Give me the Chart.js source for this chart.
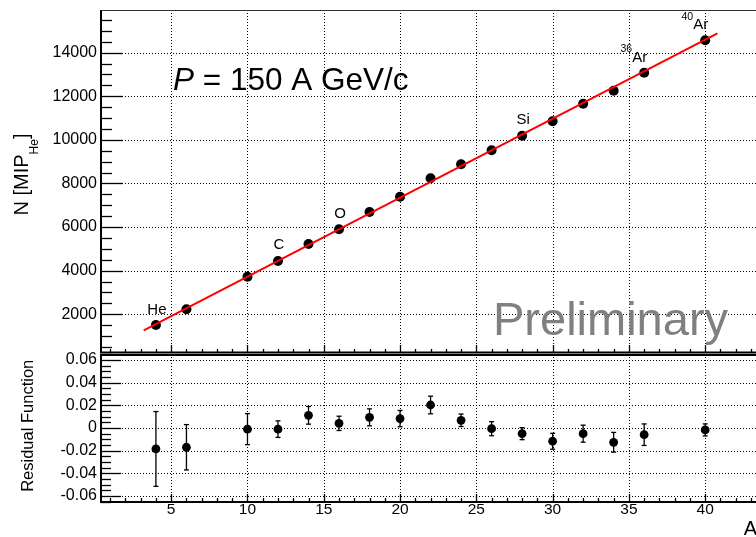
<!DOCTYPE html>
<html><head><meta charset="utf-8">
<script src="https://cdn.jsdelivr.net/npm/chart.js@4/dist/chart.umd.min.js"></script>
<style>
html,body{margin:0;padding:0;background:#fff;overflow:hidden;width:756px;height:537px;}
#top{position:absolute;left:0;top:0;width:756px;height:354px;}
#bot{position:absolute;left:0;top:340px;width:756px;height:197px;}
canvas{display:block;}
</style></head><body>
<div id="top"><canvas id="c1" width="756" height="354"></canvas></div>
<div id="bot"><canvas id="c2" width="756" height="197"></canvas></div>
<script>
// ---- data ----
const massNumbers = [4, 6, 10, 12, 14, 16, 18, 20, 22, 24, 26, 28, 30, 32, 34, 36, 40];
const signalMIP = [1509, 2229, 3725, 4445, 5225, 5899, 6693, 7394, 8238, 8881, 9523, 10193, 10853, 11661, 12257, 13083, 14569];
const residuals = [-0.0185, -0.017, -0.001, -0.001, 0.0112, 0.0041, 0.0094, 0.0083, 0.0203, 0.0068, -0.0006, -0.005, -0.0117, -0.005, -0.0126, -0.0059, -0.0017];
const residualErrors = [0.033, 0.020, 0.0137, 0.0073, 0.0078, 0.0063, 0.0075, 0.0072, 0.0078, 0.0055, 0.0062, 0.0053, 0.007, 0.0075, 0.0087, 0.0095, 0.0053];
const fitRangeA = [3.2, 40.8];
const fitLineN = [1266, 14890];
const xTicks = [5, 10, 15, 20, 25, 30, 35, 40];
const xTickLabels = ['5', '10', '15', '20', '25', '30', '35', '40'];
const yTicksTop = [2000, 4000, 6000, 8000, 10000, 12000, 14000];
const yTickLabelsTop = ['2000', '4000', '6000', '8000', '10000', '12000', '14000'];
const yTicksBottom = [-0.06, -0.04, -0.02, 0, 0.02, 0.04, 0.06];
const yTickLabelsBottom = ['-0.06', '-0.04', '-0.02', '0', '0.02', '0.04', '0.06'];
const nucleusIndex = [0, 3, 5, 11, 15, 16];
const nucleusSup = ['', '', '', '', '36', '40'];
const nucleusName = ['He', 'C', 'O', 'Si', 'Ar', 'Ar'];
const titleText = ['P', ' = 150 A GeV/c'];
const yTitleTop = ['N [MIP', 'He', ']'];
const yTitleBottom = 'Residual Function';
const xTitle = 'A';
const watermark = 'Preliminary';

const FONT = '"Liberation Sans", Arial, Helvetica, sans-serif';
const X_MIN = 0.4, X_MAX = 43.33;

function line(ctx, x1, y1, x2, y2) { ctx.beginPath(); ctx.moveTo(x1, y1); ctx.lineTo(x2, y2); ctx.stroke(); }

function rootAxes(cfg) {
  return {
    id: 'rootAxes',
    beforeDatasetsDraw(chart) {
      const {ctx, chartArea: a, scales: {x, y}} = chart;
      ctx.save();
      ctx.strokeStyle = '#000'; ctx.lineWidth = 1; ctx.setLineDash([1, 2]);
      x.ticks.forEach(t => { const px = Math.round(x.getPixelForValue(t.value)) + 0.5; line(ctx, px, a.top, px, a.bottom); });
      y.ticks.forEach(t => { const py = Math.round(y.getPixelForValue(t.value)) + 0.5; line(ctx, a.left, py, a.right, py); });
      ctx.restore();
    },
    afterDraw(chart) {
      const {ctx, chartArea: a, scales: {x, y}} = chart;
      ctx.save();
      ctx.setLineDash([]); ctx.strokeStyle = '#000'; ctx.lineWidth = 1.3;
      for (let v = Math.ceil(x.min); v <= x.max; v++) {
        const px = Math.round(x.getPixelForValue(v)) + 0.5;
        const len = v % 5 === 0 ? cfg.xMajor : cfg.xMinor;
        line(ctx, px, a.bottom, px, a.bottom - len);
      }
      const s = cfg.yMinorStep, m = cfg.yMajorStep;
      for (let k = Math.ceil(y.min / s - 1e-9); k * s <= y.max + 1e-12; k++) {
        const val = k * s;
        const r = val / m;
        const major = Math.abs(r - Math.round(r)) < 1e-6;
        const py = Math.round(y.getPixelForValue(val)) + 0.5;
        line(ctx, a.left, py, a.left + (major ? cfg.yMajor : cfg.yMinor), py);
      }
      ctx.lineWidth = 2;
      line(ctx, a.left, a.top, a.left, a.bottom);
      if (cfg.bottomAtTop) {
        line(ctx, a.left - 1, a.top + 1, a.right, a.top + 1);
        line(ctx, a.left - 1, a.bottom, a.right, a.bottom);
      } else {
        line(ctx, a.left - 1, a.bottom - 0.5, a.right, a.bottom - 0.5);
      }
      if (cfg.topLine) { ctx.lineWidth = 1.2; ctx.strokeStyle = '#333'; line(ctx, a.left, a.top + 0.5, a.right, a.top + 0.5); }
      ctx.restore();
      if (cfg.extra) cfg.extra(chart);
    }
  };
}

function drawRotated(ctx, cx, baseX, parts) {
  let total = 0;
  parts.forEach(p => { ctx.font = p.font; p.w = ctx.measureText(p.text).width; total += p.w; });
  ctx.save();
  ctx.translate(baseX, cx);
  ctx.rotate(-Math.PI / 2);
  ctx.fillStyle = '#000'; ctx.textBaseline = 'alphabetic'; ctx.textAlign = 'left';
  let pos = -total / 2;
  parts.forEach(p => { ctx.font = p.font; ctx.fillText(p.text, pos, p.dy); pos += p.w; });
  ctx.restore();
}

function topExtras(chart) {
  const {ctx, scales: {x, y}} = chart;
  ctx.save();
  ctx.fillStyle = '#000'; ctx.textBaseline = 'alphabetic'; ctx.textAlign = 'left';
  ctx.font = 'italic 31.5px ' + FONT;
  ctx.fillText(titleText[0], 173, 90);
  const w0 = ctx.measureText(titleText[0]).width;
  ctx.font = '31.5px ' + FONT;
  ctx.fillText(titleText[1], 173 + w0, 90);
  ctx.fillStyle = '#808080';
  ctx.font = '47px ' + FONT;
  ctx.fillText(watermark, 493, 335);
  ctx.fillStyle = '#000';
  nucleusIndex.forEach((idx, i) => {
    const px = x.getPixelForValue(massNumbers[idx]);
    const py = y.getPixelForValue(signalMIP[idx]);
    if (nucleusSup[i]) {
      ctx.font = '15px ' + FONT; ctx.textAlign = 'left';
      ctx.fillText(nucleusName[i], px - 12, py - 11);
      ctx.font = '10.5px ' + FONT; ctx.textAlign = 'right';
      ctx.fillText(nucleusSup[i], px - 12, py - 20.5);
    } else {
      ctx.font = '15px ' + FONT; ctx.textAlign = 'center';
      ctx.fillText(nucleusName[i], px + 1, py - 11.5);
    }
  });
  ctx.restore();
  drawRotated(ctx, 174.5, 28, [
    {text: yTitleTop[0], font: '20px ' + FONT, dy: 0},
    {text: yTitleTop[1], font: '12px ' + FONT, dy: 10},
    {text: yTitleTop[2], font: '20px ' + FONT, dy: 0}
  ]);
}

function bottomExtras(chart) {
  const {ctx, scales: {x, y}} = chart;
  ctx.save();
  ctx.strokeStyle = '#000'; ctx.lineWidth = 1.3;
  massNumbers.forEach((a, i) => {
    const px = x.getPixelForValue(a);
    const y1 = y.getPixelForValue(residuals[i] + residualErrors[i]);
    const y2 = y.getPixelForValue(residuals[i] - residualErrors[i]);
    line(ctx, px, y1, px, y2);
    line(ctx, px - 2.5, y1, px + 2.5, y1);
    line(ctx, px - 2.5, y2, px + 2.5, y2);
  });
  ctx.restore();
  drawRotated(ctx, 85.8, 33, [{text: yTitleBottom, font: '16.5px ' + FONT, dy: 0}]);
  ctx.save();
  ctx.fillStyle = '#000'; ctx.font = '20px ' + FONT; ctx.textAlign = 'right'; ctx.textBaseline = 'alphabetic';
  ctx.fillText(xTitle, 757, 195);
  ctx.restore();
}

const commonOpts = {
  responsive: false, animation: false, events: [],
  plugins: {legend: {display: false}, tooltip: {enabled: false}, title: {display: false}}
};

new Chart(document.getElementById('c1'), {
  type: 'scatter',
  data: {
    datasets: [
      {type: 'line', data: fitRangeA.map((a, i) => ({x: a, y: fitLineN[i]})), borderColor: '#ff0000', borderWidth: 2, pointRadius: 0, fill: false, order: 0},
      {data: massNumbers.map((a, i) => ({x: a, y: signalMIP[i]})), backgroundColor: '#000', borderColor: '#000', pointRadius: 5, borderWidth: 0, order: 1}
    ]
  },
  options: Object.assign({}, commonOpts, {
    layout: {autoPadding: false, padding: {top: 10, right: 0, bottom: 1, left: 0}},
    scales: {
      x: {type: 'linear', min: X_MIN, max: X_MAX,
        grid: {display: false, drawTicks: false}, border: {display: false},
        ticks: {display: false},
        afterBuildTicks: s => { s.ticks = xTicks.map(v => ({value: v})); },
        afterFit: s => { s.height = 0; s.paddingLeft = 0; s.paddingRight = 0; }},
      y: {type: 'linear', min: 225, max: 15957,
        grid: {display: false, drawTicks: false}, border: {display: false},
        ticks: {color: '#000', padding: 4, font: {family: FONT, size: 16, lineHeight: 1},
          callback: v => yTickLabelsTop[yTicksTop.indexOf(v)]},
        afterBuildTicks: s => { s.ticks = yTicksTop.map(v => ({value: v})); },
        afterFit: s => { s.width = 101; s.paddingTop = 0; s.paddingBottom = 0; }}
    }
  }),
  plugins: [rootAxes({xMajor: 8, xMinor: 4, yMajor: 22, yMinor: 11, yMinorStep: 500, yMajorStep: 2000, topLine: true, extra: topExtras})]
});

new Chart(document.getElementById('c2'), {
  type: 'scatter',
  data: {
    datasets: [
      {data: massNumbers.map((a, i) => ({x: a, y: residuals[i]})), backgroundColor: '#000', borderColor: '#000', pointRadius: 4.4, borderWidth: 0}
    ]
  },
  options: Object.assign({}, commonOpts, {
    layout: {autoPadding: false, padding: {top: 14, right: 0, bottom: 0, left: 0}},
    scales: {
      x: {type: 'linear', min: X_MIN, max: X_MAX,
        grid: {display: false, drawTicks: false}, border: {display: false},
        ticks: {color: '#000', padding: 0, maxRotation: 0, font: {family: FONT, size: 15.5, lineHeight: 1},
          callback: v => xTickLabels[xTicks.indexOf(v)]},
        afterBuildTicks: s => { s.ticks = xTicks.map(v => ({value: v})); },
        afterFit: s => { s.height = 35; s.paddingLeft = 0; s.paddingRight = 0; }},
      y: {type: 'linear', min: -0.0653, max: 0.0653,
        grid: {display: false, drawTicks: false}, border: {display: false},
        ticks: {color: '#000', padding: 4, font: {family: FONT, size: 16, lineHeight: 1},
          callback: v => yTickLabelsBottom[yTicksBottom.findIndex(t => Math.abs(t - v) < 1e-9)]},
        afterBuildTicks: s => { s.ticks = yTicksBottom.map(v => ({value: v})); },
        afterFit: s => { s.width = 101; s.paddingTop = 0; s.paddingBottom = 0; }}
    }
  }),
  plugins: [rootAxes({xMajor: 8, xMinor: 4, yMajor: 20, yMinor: 10, yMinorStep: 0.005, yMajorStep: 0.02, topLine: false, bottomAtTop: true, extra: bottomExtras})]
});
</script>
</body></html>
